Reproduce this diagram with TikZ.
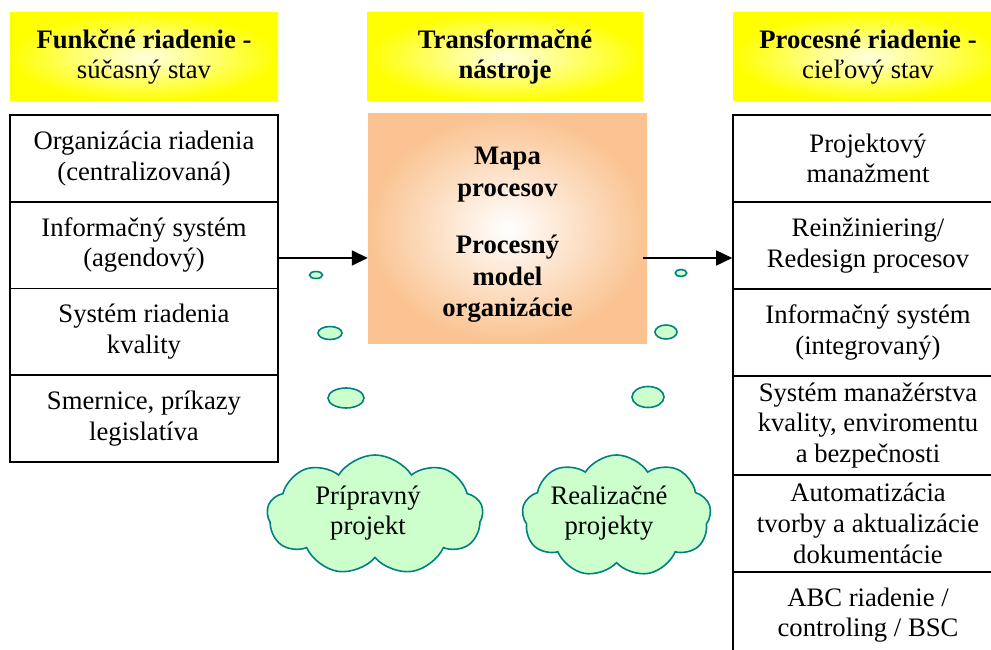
\documentclass[tikz,border=0pt]{standalone}
\usepackage{fontspec}
\setmainfont{Liberation Serif}
\usetikzlibrary{arrows.meta,shapes.geometric,shapes.symbols}
\definecolor{orbox}{RGB}{250,195,145}
\definecolor{bubfill}{RGB}{204,255,204}
\definecolor{bubline}{RGB}{0,128,128}
\tikzset{
  hdr/.style={rectangle, inner color=yellow!12, outer color=yellow, minimum height=88, inner sep=0, align=center},
  cell/.style={rectangle, draw=black, line width=1.6pt, fill=white, inner sep=0, align=center},
  lcell/.style={cell, minimum width=268, minimum height=86.75},
  rcell/.style={cell, minimum width=270},
  conn/.style={line width=1.6pt, -{Triangle[length=16pt,width=15pt]}},
  bubble/.style={ellipse, draw=bubline, fill=bubfill, line width=1.6pt, inner sep=0},
  thought/.style={cloud, cloud puffs=9, cloud puff arc=115, cloud ignores aspect, draw=bubline, fill=bubfill, line width=1.6pt, inner sep=0, align=center},
  lbl/.style={align=center, inner sep=0},
}
\begin{document}
\begin{tikzpicture}[x=1pt, y=-1pt, font=\fontsize{26.67}{30.7}\selectfont]
\useasboundingbox (0,0) rectangle (991,650);
\clip (0,0) rectangle (991,650);
% headers
\node[hdr, minimum width=268] (h1) at (144,57) {\textbf{Funkčné riadenie -}\\súčasný stav};
\node[hdr, minimum width=276] (h2) at (505,57) {\textbf{Transformačné}\\\textbf{nástroje}};
\node[hdr, minimum width=270] (h3) at (868,57) {\textbf{Procesné riadenie -}\\cieľový stav};
% left column
\node[lcell] (l1) at (144,158.4) {Organizácia riadenia\\(centralizovaná)};
\node[lcell] (l2) at (144,245.1) {Informačný systém\\(agendový)};
\node[lcell] (l3) at (144,331.9) {Systém riadenia\\kvality};
\node[lcell] (l4) at (144,418.6) {Smernice, príkazy\\legislatíva};
% centre
\node[rectangle, inner color=white, outer color=orbox, minimum width=279, minimum height=229, inner sep=0] (cbox) at (507.5,228.5) {};
\node[lbl, font=\fontsize{26.67}{31.5}\selectfont\bfseries] (ctext) at (507.5,235) {Mapa\\procesov\\[26pt]Procesný\\model\\organizácie};
% right column
\node[rcell, minimum height=87] (r1) at (868,158.5) {Projektový\\manažment};
\node[rcell, minimum height=87] (r2) at (868,245.5) {Reinžiniering/\\Redesign procesov};
\node[rcell, minimum height=87] (r3) at (868,332.5) {Informačný systém\\(integrovaný)};
\node[rcell, minimum height=99] (r4) at (868,425.5) {Systém manažérstva\\kvality, enviromentu\\a bezpečnosti};
\node[rcell, minimum height=97] (r5) at (868,523.5) {Automatizácia\\tvorby a aktualizácie\\dokumentácie};
\node[rcell, minimum height=86] (r6) at (868,615) {ABC riadenie /\\controling / BSC};
% connectors
\coordinate (la) at (278,258);
\coordinate (ra) at (643,258);
\draw[conn] (la) -- (la -| cbox.west);
\draw[conn] (ra) -- (ra -| r2.west);
% thought bubbles
\node[bubble, minimum width=13, minimum height=7] (b1) at (316,275) {};
\node[bubble, minimum width=24, minimum height=13] (b2) at (330,333) {};
\node[bubble, minimum width=36, minimum height=20] (b3) at (346,398) {};
\node[bubble, minimum width=11.5, minimum height=7] (b4) at (681,273) {};
\node[bubble, minimum width=22, minimum height=14] (b5) at (666,332) {};
\node[bubble, minimum width=32, minimum height=21] (b6) at (648,397) {};
\node[thought, minimum width=216, minimum height=120] (c1) at (375,515) {};
\node[lbl] (c1t) at (368,513) {Prípravný\\projekt};
\node[thought, minimum width=189, minimum height=122] (c2) at (616.5,516) {};
\node[lbl] (c2t) at (609,513) {Realizačné\\projekty};
\end{tikzpicture}
\end{document}
